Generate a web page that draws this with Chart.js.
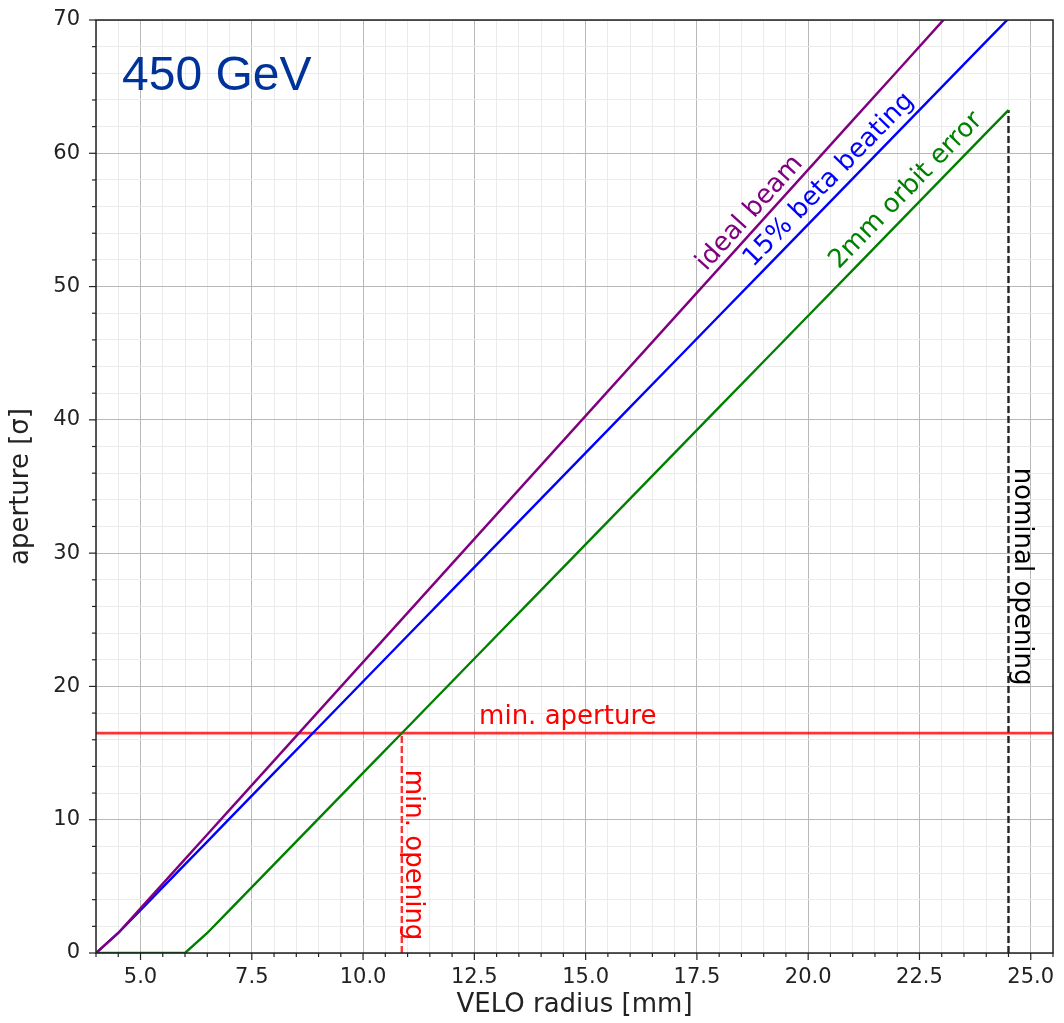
<!DOCTYPE html>
<html>
<head>
<meta charset="utf-8">
<script src="https://cdn.jsdelivr.net/npm/chart.js@4.4.1/dist/chart.umd.min.js"></script>
<style>
  body { margin: 0; background: #fff; }
  #wrap { position: relative; width: 1064px; height: 1023px; }
</style>
</head>
<body>
<div id="wrap"><canvas id="apertureChart" width="1064" height="1023"></canvas></div>
<script>
// VELO radius [mm]
let radius = [4.0, 4.5, 5, 6, 6.5, 7, 8, 9, 10, 11, 12, 13, 14, 15, 16, 17, 18, 19, 20, 21, 22, 23, 24, 24.5];
// aperture [sigma]
let idealBeam = [0, 1.5, 3.35, 7.04, 8.89, 10.74, 14.43, 18.13, 21.82, 25.52, 29.21, 32.91, 36.60, 40.30, 43.99, 47.69, 51.38, 55.08, 58.77, 62.47, 66.16, 69.86, 73.55, 75.40];
let betaBeating = [0, 1.5, 3.22, 6.65, 8.36, 10.08, 13.51, 16.94, 20.37, 23.80, 27.23, 30.66, 34.09, 37.52, 40.95, 44.38, 47.81, 51.24, 54.67, 58.10, 61.53, 64.96, 68.39, 70.10];
let orbitError = [0, 0, 0, 0, 1.5, 3.22, 6.65, 10.08, 13.51, 16.94, 20.37, 23.80, 27.23, 30.66, 34.09, 37.52, 40.95, 44.38, 47.81, 51.24, 54.67, 58.10, 61.53, 63.24];

let minAperture = 16.5;
let minOpening = 10.87;
let nominalOpening = 24.5;

let xMin = 4, xMax = 25.5;
let yMin = 0, yMax = 70;

function toPoints(values) {
  return radius.map((r, i) => ({ x: r, y: values[i] }));
}

// text annotations (data coordinates of the text centre)
let labels = [
  { text: 'ideal beam', x: 18.69, y: 55.5, color: '#800080', along: 0 },
  { text: '15% beta beating', x: 20.47, y: 58.0, color: '#0000ff', along: 1 },
  { text: '2mm orbit error', x: 22.2, y: 57.2, color: '#008000', along: 2 },
  { text: 'min. aperture', x: 14.6, y: 17.7, color: '#ff0000' },
  { text: 'min. opening', x: 11.11, y: 7.35, color: '#ff0000', vertical: true },
  { text: 'nominal opening', x: 24.79, y: 28.24, color: '#000000', vertical: true }
];

function isMajor(value, step) {
  return Math.abs(value / step - Math.round(value / step)) < 1e-6;
}

let decorPlugin = {
  id: 'decor',
  afterDatasetsDraw(chart) {
    let ctx = chart.ctx;
    let area = chart.chartArea;
    let xs = chart.scales.x, ys = chart.scales.y;
    ctx.save();

    // frame
    ctx.strokeStyle = '#222';
    ctx.lineWidth = 1.5;
    ctx.strokeRect(area.left, area.top, area.right - area.left, area.bottom - area.top);

    // tick marks
    ctx.lineWidth = 1.2;
    xs.ticks.forEach(t => {
      let px = xs.getPixelForValue(t.value);
      let len = isMajor(t.value, 2.5) ? 7 : 4;
      ctx.beginPath();
      ctx.moveTo(px, area.bottom);
      ctx.lineTo(px, area.bottom + len);
      ctx.stroke();
    });
    ys.ticks.forEach(t => {
      let py = ys.getPixelForValue(t.value);
      let len = isMajor(t.value, 10) ? 7 : 4;
      ctx.beginPath();
      ctx.moveTo(area.left, py);
      ctx.lineTo(area.left - len, py);
      ctx.stroke();
    });

    // annotations
    ctx.font = '26px "DejaVu Sans"';
    ctx.textAlign = 'center';
    ctx.textBaseline = 'middle';
    labels.forEach(l => {
      let px = xs.getPixelForValue(l.x);
      let py = ys.getPixelForValue(l.y);
      let angle = 0;
      if (l.vertical) {
        angle = Math.PI / 2;
      } else if (l.along !== undefined) {
        let pts = chart.data.datasets[l.along].data;
        let a = pts[10], b = pts[20];
        angle = Math.atan2(ys.getPixelForValue(b.y) - ys.getPixelForValue(a.y),
                           xs.getPixelForValue(b.x) - xs.getPixelForValue(a.x));
      }
      ctx.save();
      ctx.translate(px, py);
      ctx.rotate(angle);
      ctx.fillStyle = l.color;
      ctx.fillText(l.text, 0, 0);
      ctx.restore();
    });

    // energy label
    ctx.font = '48px "Liberation Sans"';
    ctx.textAlign = 'left';
    ctx.textBaseline = 'alphabetic';
    ctx.fillStyle = '#003399';
    ctx.fillText('450 GeV', 122, 90);

    ctx.restore();
  }
};

function lineSet(values, color) {
  return {
    data: toPoints(values),
    borderColor: color,
    borderWidth: 2.4,
    pointRadius: 0,
    fill: false,
    tension: 0
  };
}

new Chart(document.getElementById('apertureChart'), {
  type: 'scatter',
  data: {
    datasets: [
      lineSet(idealBeam, '#800080'),
      lineSet(betaBeating, '#0000ff'),
      lineSet(orbitError, '#008000'),
      {
        data: [{ x: xMin, y: minAperture }, { x: xMax, y: minAperture }],
        borderColor: 'rgba(255, 0, 0, 0.8)',
        borderWidth: 2.8,
        pointRadius: 0
      },
      {
        data: [{ x: minOpening, y: 0 }, { x: minOpening, y: minAperture }],
        borderColor: 'rgba(255, 0, 0, 0.8)',
        borderWidth: 2.4,
        borderDash: [7, 3],
        pointRadius: 0
      },
      {
        data: [{ x: nominalOpening, y: 0 }, { x: nominalOpening, y: orbitError[orbitError.length - 1] }],
        borderColor: '#222',
        borderWidth: 2.4,
        borderDash: [7, 3],
        pointRadius: 0
      }
    ].map(d => Object.assign({ showLine: true }, d))
  },
  options: {
    responsive: false,
    animation: false,
    layout: { padding: { top: 20, right: 11, left: 0, bottom: 0 } },
    plugins: {
      legend: { display: false },
      tooltip: { enabled: false }
    },
    scales: {
      x: {
        type: 'linear',
        min: xMin,
        max: xMax,
        afterFit(scale) {
          scale.height = 70;
          scale.paddingLeft = 0;
          scale.paddingRight = 0;
        },
        ticks: {
          stepSize: 0.5,
          autoSkip: false,
          maxRotation: 0,
          padding: 12,
          color: '#222',
          font: { family: 'DejaVu Sans', size: 21 },
          callback: v => isMajor(v, 2.5) ? v.toFixed(1) : ''
        },
        grid: {
          drawTicks: false,
          color: c => isMajor(c.tick.value, 2.5) ? '#b8b8b8' : '#ebebeb',
          lineWidth: 1
        },
        border: { display: false },
        title: {
          display: true,
          text: 'VELO radius [mm]',
          color: '#222',
          font: { family: 'DejaVu Sans', size: 26 },
          padding: { top: 0, bottom: 2 }
        }
      },
      y: {
        type: 'linear',
        min: yMin,
        max: yMax,
        afterFit(scale) {
          scale.width = 96;
          scale.paddingTop = 0;
          scale.paddingBottom = 0;
        },
        ticks: {
          stepSize: 2,
          autoSkip: false,
          padding: 16,
          color: '#222',
          font: { family: 'DejaVu Sans', size: 21 },
          callback: v => isMajor(v, 10) ? String(v) : ''
        },
        grid: {
          drawTicks: false,
          color: c => isMajor(c.tick.value, 10) ? '#b8b8b8' : '#ebebeb',
          lineWidth: 1
        },
        border: { display: false },
        title: {
          display: true,
          text: 'aperture [σ]',
          color: '#222',
          font: { family: 'DejaVu Sans', size: 26 },
          padding: { top: 6, bottom: 0 }
        }
      }
    }
  },
  plugins: [decorPlugin]
});
</script>
</body>
</html>
